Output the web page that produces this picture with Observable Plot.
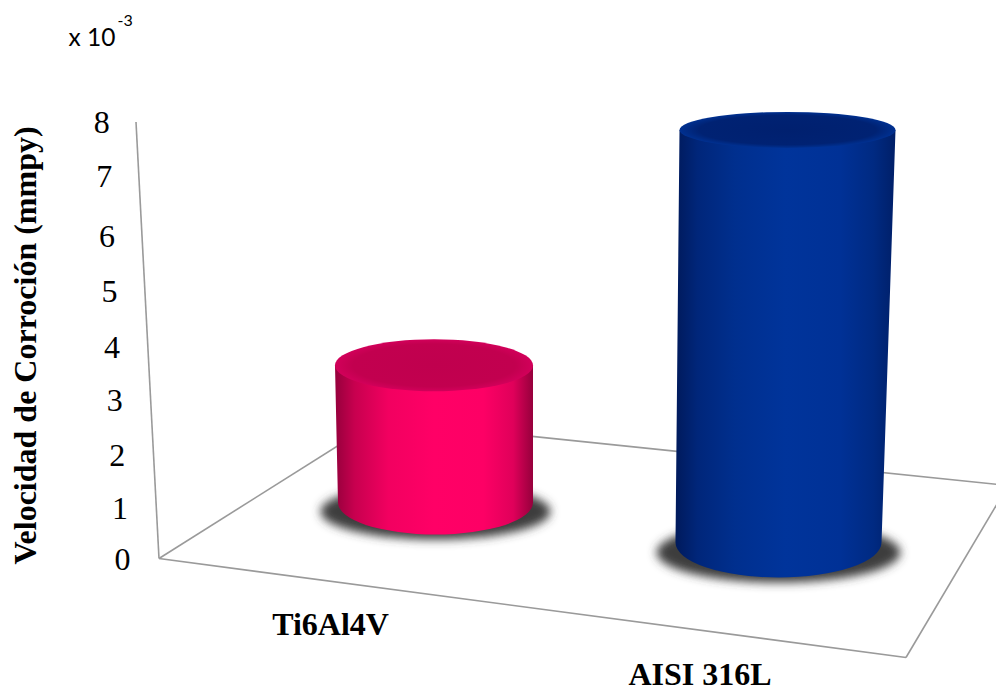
<!DOCTYPE html>
<html><head><meta charset="utf-8">
<style>html,body{margin:0;padding:0;background:#fff;overflow:hidden}</style>
<script src="https://cdn.jsdelivr.net/npm/d3@7"></script>
<script src="https://cdn.jsdelivr.net/npm/@observablehq/plot@0.6"></script>
</head><body><div id="chart"></div>
<script>
const categories = ["Ti6Al4V", "AISI 316L"];
const velocidad = [2.66, 8];
const yTicks = [0, 1, 2, 3, 4, 5, 6, 7, 8];
const yTitle = "Velocidad de Corroción (mmpy)";
const multiplier = "x 10";
const multiplierExp = "-3";
const serif = "'Liberation Serif','Times New Roman',serif";

// Perspective set-up of the 3D chart (floor outline, cylinder shape, shading)
const look = {
  foreshorten: 0.943,
  tickNudge: [0, 3, 5, 5, 6, 5, 5, 0, 0],
  labelOffset: [[-105.5, 65], [-79, 115]],
  cylinders: [
    {lift: 57, lean: -1.5, rxTop: 99, ryTop: 26, rxBase: 97.5, ryBase: 32,
     shadow: {dy: 9, rx: 115, ry: 28},
     side: ["#96003c", "#c8004f", "#f20060", "#ff0066", "#fd0065", "#e0005a", "#96003c"],
     top: ["#c0004e", "#c2004f", "#d2005a"]},
    {lift: 17, lean: 9, rxTop: 108, ryTop: 18, rxBase: 103, ryBase: 35,
     shadow: {dy: 10, rx: 122, ry: 30},
     side: ["#001a5c", "#00267a", "#002f8e", "#00349b", "#003196", "#002a82", "#001f68"],
     top: ["#00206f", "#002273", "#003090"]}
  ]
};
const sideStops = [0, 0.1, 0.27, 0.5, 0.75, 0.9, 1];

function frameLines(index, {y}) {
  const g = d3.create("svg:g").attr("fill", "none").attr("stroke", "#9a9a9a").attr("stroke-width", 1.6);
  const y0 = y(0) - 1, y8 = y(8);
  const segs = [
    [[136, y8], [159, y0]],
    [[159, y0], [906, y0 + 99]],
    [[906, y0 + 99], [1008, y0 - 73]],
    [[159, y0], [378, y0 - 138]],
    [[378, y0 - 138], [1008, y0 - 73]]
  ];
  for (const s of segs) g.append("path").attr("d", d3.line()(s));
  return g.node();
}

function cylinders(index, scales, values) {
  const g = d3.create("svg:g");
  const defs = g.append("defs");
  defs.append("filter").attr("id", "soft").attr("x", "-20%").attr("y", "-40%")
    .attr("width", "140%").attr("height", "180%")
    .append("feGaussianBlur").attr("stdDeviation", 5);
  const bw = typeof scales.x.bandwidth === "function" ? scales.x.bandwidth() : scales.x.bandwidth;
  for (const i of index) {
    const c = look.cylinders[i];
    const cx = scales.x(categories[i]) + bw / 2;
    const yB = values.y1[i] - c.lift;
    const yT = yB - look.foreshorten * (values.y1[i] - values.y2[i]);
    const cxT = cx + c.lean;
    const side = defs.append("linearGradient").attr("id", "side" + i);
    sideStops.forEach((o, k) => side.append("stop").attr("offset", o).attr("stop-color", c.side[k]));
    const top = defs.append("radialGradient").attr("id", "top" + i);
    [0, 0.82, 1].forEach((o, k) => top.append("stop").attr("offset", o).attr("stop-color", c.top[k]));
    g.append("ellipse").attr("cx", cx).attr("cy", yB + c.shadow.dy)
      .attr("rx", c.shadow.rx).attr("ry", c.shadow.ry)
      .attr("fill", "#3e3e3e").attr("filter", "url(#soft)");
    g.append("path").attr("fill", `url(#side${i})`)
      .attr("d", `M${cxT - c.rxTop},${yT}L${cx - c.rxBase},${yB}` +
        `A${c.rxBase},${c.ryBase} 0 0 0 ${cx + c.rxBase},${yB}L${cxT + c.rxTop},${yT}Z`);
    g.append("ellipse").attr("cx", cxT).attr("cy", yT).attr("rx", c.rxTop).attr("ry", c.ryTop)
      .attr("fill", `url(#top${i})`);
  }
  return g.node();
}

const tickMarks = yTicks.map(t => Plot.text([t], {
  y: d => d, text: d => String(d), frameAnchor: "left", textAnchor: "middle",
  dx: 122 - 2.6 * t, dy: look.tickNudge[t], fontFamily: serif, fontSize: 32, fill: "#000"
}));

const labelMarks = categories.map((c, i) => Plot.text([c], {
  x: d => d, y: () => 0, text: d => d,
  dx: look.labelOffset[i][0], dy: look.labelOffset[i][1],
  fontFamily: serif, fontWeight: "bold", fontSize: 32, fill: "#000"
}));

const chart = Plot.plot({
  width: 996, height: 692, margin: 0,
  x: {type: "band", domain: categories, range: [263.75, 950.75], padding: 0, axis: null},
  y: {domain: [0, 8], range: [559.5, 122], axis: null},
  marks: [
    frameLines,
    Plot.barY(categories.map((c, i) => ({c, v: velocidad[i]})), {x: "c", y: "v", render: cylinders}),
    ...tickMarks,
    ...labelMarks,
    Plot.text([yTitle], {frameAnchor: "top-left", text: d => d, rotate: -90, dx: 13, dy: 345,
      textAnchor: "middle", fontFamily: serif, fontWeight: "bold", fontSize: 32, fill: "#000"}),
    Plot.text([multiplier], {frameAnchor: "top-left", text: d => d, dx: 68, dy: 28, textAnchor: "start",
      fontFamily: "Lato,'Open Sans',sans-serif", fontSize: 24.5, fill: "#000"}),
    Plot.text([multiplierExp], {frameAnchor: "top-left", text: d => d, dx: 117, dy: 14, textAnchor: "start",
      fontFamily: "Lato,'Open Sans',sans-serif", fontSize: 16, fill: "#000"})
  ]
});
document.getElementById("chart").appendChild(chart);
</script></body></html>
